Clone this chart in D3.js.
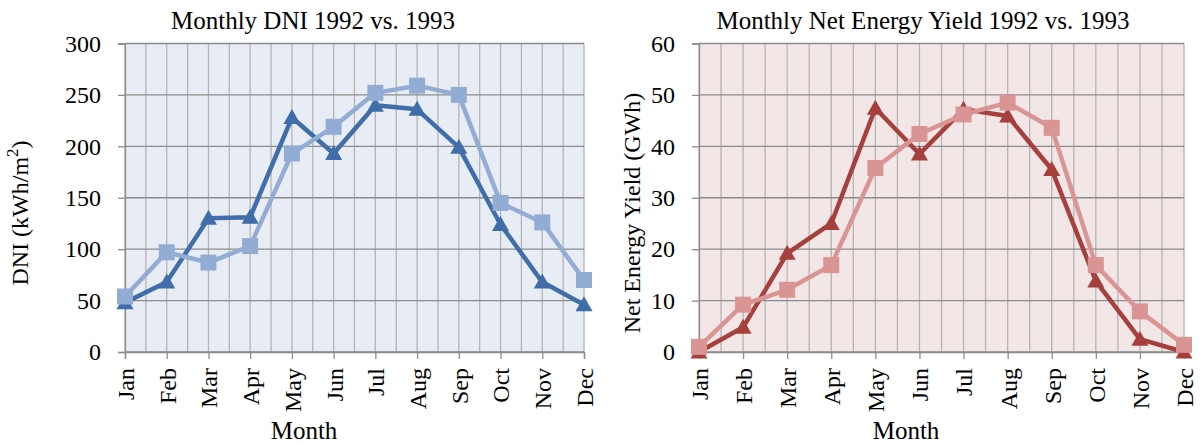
<!DOCTYPE html>
<html>
<head>
<meta charset="utf-8">
<script src="https://cdn.jsdelivr.net/npm/d3@7"></script>
<style>
  body { margin: 0; background: #fff; }
  svg text { font-family: "Liberation Serif", serif; fill: #000; }
</style>
</head>
<body>
<svg id="chart" width="1201" height="444"></svg>
<script>
// data
var months = ["Jan", "Feb", "Mar", "Apr", "May", "Jun", "Jul", "Aug", "Sep", "Oct", "Nov", "Dec"];
var dni1992 = [48, 68, 130, 131, 228, 193, 240, 236, 199, 124, 68, 46];
var dni1993 = [54, 97, 87, 103, 193, 219, 252, 259, 250, 145, 126, 70];
var yield1992 = [0, 4.8, 19.2, 25, 47.4, 38.5, 47.2, 45.9, 35.5, 13.8, 2.5, 0];
var yield1993 = [1, 9.2, 12.1, 16.9, 35.8, 42.4, 46.2, 48.5, 43.6, 16.9, 7.9, 1.4];
var dniTicks = [0, 50, 100, 150, 200, 250, 300];
var yieldTicks = [0, 10, 20, 30, 40, 50, 60];

var svg = d3.select("#chart");

function drawPanel(p) {
  var g = svg.append("g");

  var x = d3.scalePoint().domain(months).range([p.left, p.right]);
  var y = d3.scaleLinear().domain([0, p.max]).range([352, 43.5]);

  // plot background
  g.append("rect")
    .attr("x", p.left).attr("y", y(p.max))
    .attr("width", p.right - p.left).attr("height", y(0) - y(p.max))
    .attr("fill", p.bg);

  // vertical grid, every half month
  var step = x.step();
  var vlines = [];
  months.forEach(function(m, i) {
    vlines.push(x(m));
    if (i < months.length - 1) vlines.push(x(m) + step / 2);
  });
  g.selectAll(".vgrid").data(vlines).enter().append("line")
    .attr("x1", function(d) { return d; }).attr("x2", function(d) { return d; })
    .attr("y1", y(p.max)).attr("y2", y(0))
    .attr("stroke", "#b4b4b4").attr("stroke-width", 1.3);

  // horizontal grid
  g.selectAll(".hgrid").data(p.ticks).enter().append("line")
    .attr("x1", p.left).attr("x2", p.right)
    .attr("y1", function(d) { return y(d); }).attr("y2", function(d) { return y(d); })
    .attr("stroke", "#8c8c8c").attr("stroke-width", 1.3);

  // y axis
  var ya = g.append("g").attr("transform", "translate(" + p.left + ",0)")
    .call(d3.axisLeft(y).tickValues(p.ticks).tickSize(7).tickPadding(17));
  ya.select(".domain").attr("stroke", "#8c8c8c").attr("stroke-width", 1.3);
  ya.selectAll(".tick line").attr("stroke", "#8c8c8c").attr("stroke-width", 1.3);
  ya.selectAll("text").attr("font-size", 24).attr("font-family", "Liberation Serif").attr("fill", "#000");

  // x axis
  var xa = g.append("g").attr("transform", "translate(0," + y(0) + ")")
    .call(d3.axisBottom(x).tickSize(7).tickPadding(0));
  xa.select(".domain").attr("stroke", "#8c8c8c").attr("stroke-width", 1.3);
  xa.selectAll(".tick line").attr("stroke", "#8c8c8c").attr("stroke-width", 1.3);
  xa.selectAll("text")
    .attr("font-size", 24).attr("font-family", "Liberation Serif").attr("fill", "#000")
    .attr("text-anchor", "end")
    .attr("transform", "rotate(-90)")
    .attr("x", -16).attr("y", 0).attr("dy", "0.35em");

  // series
  var line = d3.line()
    .x(function(d, i) { return x(months[i]); })
    .y(function(d) { return y(d); });

  g.append("path").datum(p.s1).attr("d", line)
    .attr("fill", "none").attr("stroke", p.c1).attr("stroke-width", 4.5)
    .attr("stroke-linejoin", "round");
  g.selectAll(".tri").data(p.s1).enter().append("path")
    .attr("d", "M0,-8.5L8.5,6.5L-8.5,6.5Z")
    .attr("transform", function(d, i) { return "translate(" + x(months[i]) + "," + y(d) + ")"; })
    .attr("fill", p.c1);

  g.append("path").datum(p.s2).attr("d", line)
    .attr("fill", "none").attr("stroke", p.c2).attr("stroke-width", 4.5)
    .attr("stroke-linejoin", "round");
  g.selectAll(".sq").data(p.s2).enter().append("rect")
    .attr("x", function(d, i) { return x(months[i]) - 8; })
    .attr("y", function(d) { return y(d) - 8; })
    .attr("width", 16).attr("height", 16)
    .attr("fill", p.c2);

  // titles
  g.append("text").attr("x", p.titleX).attr("y", 29)
    .attr("text-anchor", "middle").attr("font-size", 25).text(p.title);
  g.append("text").attr("x", p.monthX).attr("y", 439)
    .attr("text-anchor", "middle").attr("font-size", 25).text("Month");
  var yt = g.append("text")
    .attr("transform", "translate(" + p.yTitleX + ",213) rotate(-90)")
    .attr("text-anchor", "middle").attr("dy", "0.35em").attr("font-size", 24);
  yt.append("tspan").text(p.yTitle);
  if (p.sup) {
    yt.append("tspan").attr("font-size", 17).attr("dy", "-0.6em").text(p.sup);
    yt.append("tspan").attr("dy", "0.42em").text(")");
  }
}

drawPanel({
  left: 125, right: 584, max: 300, ticks: dniTicks,
  s1: dni1992, s2: dni1993, c1: "#3f6ea9", c2: "#93acd4", bg: "#e8edf5",
  title: "Monthly DNI 1992 vs. 1993", titleX: 313, monthX: 304,
  yTitle: "DNI (kWh/m", sup: "2", yTitleX: 20
});

drawPanel({
  left: 699, right: 1184, max: 60, ticks: yieldTicks,
  s1: yield1992, s2: yield1993, c1: "#a6403d", c2: "#d99594", bg: "#f2e6e6",
  title: "Monthly Net Energy Yield 1992 vs. 1993", titleX: 923, monthX: 906,
  yTitle: "Net Energy Yield (GWh)", sup: null, yTitleX: 632
});
</script>
</body>
</html>
